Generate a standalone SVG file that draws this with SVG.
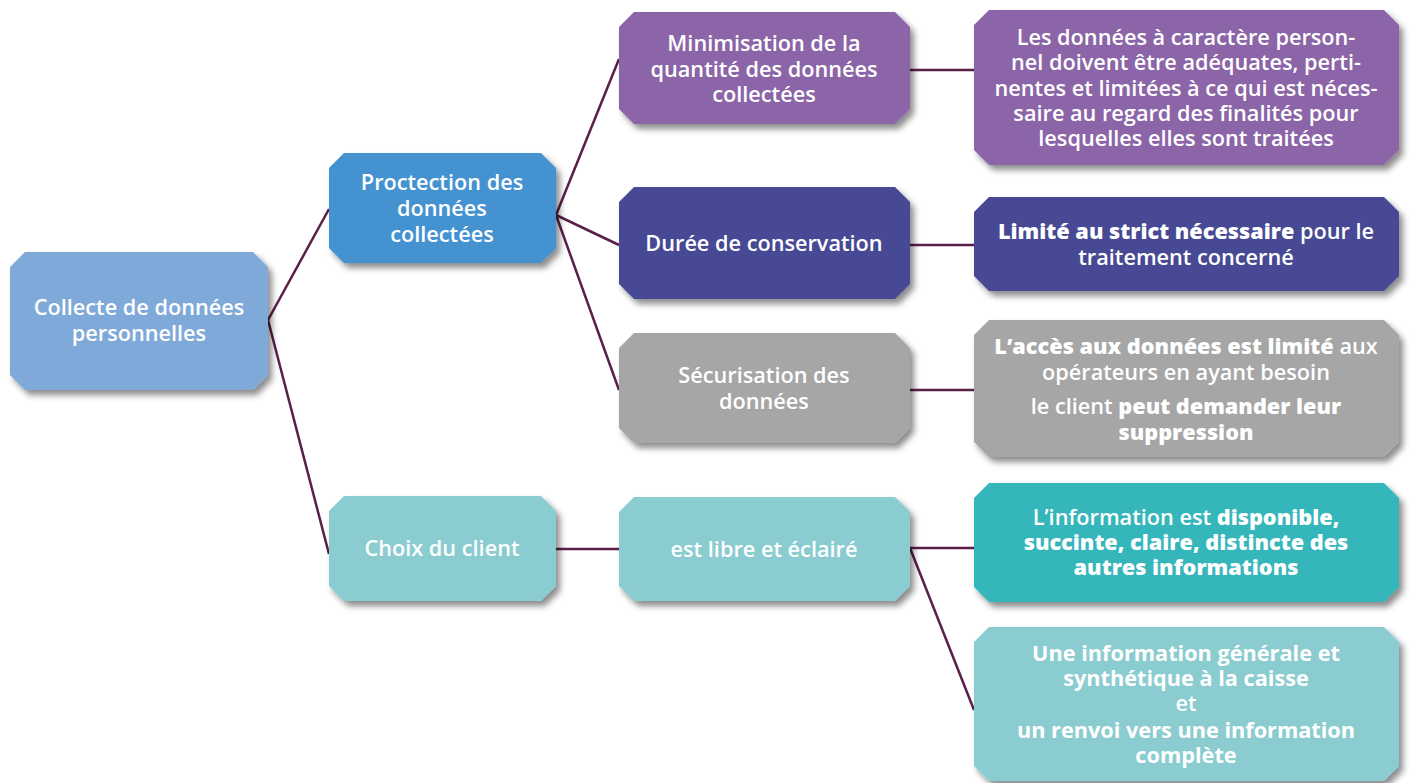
<svg xmlns="http://www.w3.org/2000/svg" width="1411" height="783" viewBox="0 0 1411 783">
<style>
text{font-family:"Open Sans","Noto Sans","Liberation Sans",sans-serif;font-size:21.7px;fill:#fff;font-weight:600;text-anchor:middle}
.b{font-weight:800}
.s{font-weight:700}
.n{filter:url(#sh)}
.c line{stroke:#5a1f48;stroke-width:2.5}
</style>
<defs>
<filter id="sh" x="-10%" y="-10%" width="125%" height="135%">
<feDropShadow dx="4" dy="5" stdDeviation="3" flood-color="#000" flood-opacity="0.45"/>
</filter>
</defs>
<rect width="1411" height="783" fill="#fff"/>
<g class="c" id="connectors">
<line x1="268" y1="320" x2="329" y2="209"/>
<line x1="268" y1="320" x2="329" y2="554"/>
<line x1="556" y1="215" x2="619" y2="59"/>
<line x1="556" y1="215" x2="619" y2="245"/>
<line x1="556" y1="215" x2="619" y2="390"/>
<line x1="910" y1="70" x2="974" y2="70"/>
<line x1="910" y1="245" x2="974" y2="245"/>
<line x1="910" y1="390" x2="974" y2="390"/>
<line x1="556" y1="549" x2="619" y2="549"/>
<line x1="910" y1="548" x2="974" y2="548"/>
<line x1="910" y1="548" x2="974" y2="710"/>
</g>
<g id="n1"><polygon class="n" fill="#7ea9d9" points="25,252 253,252 268,267 268,375 253,390 25,390 10,375 10,267"/>
<text x="139" y="315">Collecte de données</text><text x="139" y="341">personnelles</text></g>
<g id="n2"><polygon class="n" fill="#4592d0" points="344,153 541,153 556,168 556,248 541,263 344,263 329,248 329,168"/>
<text x="442" y="190">Proctection des</text><text x="442" y="216">données</text><text x="442" y="242">collectées</text></g>
<g id="n3"><polygon class="n" fill="#8acccf" points="344,496 541,496 556,511 556,586 541,601 344,601 329,586 329,511"/>
<text x="442" y="556">Choix du client</text></g>
<g id="n4"><polygon class="n" fill="#8b65a7" points="634,12 895,12 910,27 910,109 895,124 634,124 619,109 619,27"/>
<text x="764" y="51">Minimisation de la</text><text x="764" y="77">quantité des données</text><text x="764" y="102">collectées</text></g>
<g id="n5"><polygon class="n" fill="#464894" points="634,187 895,187 910,202 910,284 895,299 634,299 619,284 619,202"/>
<text x="764" y="251">Durée de conservation</text></g>
<g id="n6"><polygon class="n" fill="#a6a6a6" points="634,333 895,333 910,348 910,428 895,443 634,443 619,428 619,348"/>
<text x="764" y="383">Sécurisation des</text><text x="764" y="409">données</text></g>
<g id="n7"><polygon class="n" fill="#8acccf" points="634,497 895,497 910,512 910,586 895,601 634,601 619,586 619,512"/>
<text x="764" y="557">est libre et éclairé</text></g>
<g id="n8"><polygon class="n" fill="#8b65a7" points="989,10 1384,10 1399,25 1399,150 1384,165 989,165 974,150 974,25"/>
<text x="1186" y="45">Les données à caractère person-</text>
<text x="1186" y="70">nel doivent être adéquates, perti-</text>
<text x="1186" y="96">nentes et limitées à ce qui est néces-</text>
<text x="1186" y="121">saire au regard des finalités pour</text>
<text x="1186" y="146">lesquelles elles sont traitées</text></g>
<g id="n9"><polygon class="n" fill="#464894" points="989,197 1384,197 1399,212 1399,276 1384,291 989,291 974,276 974,212"/>
<text x="1186" y="239"><tspan class="b">Limité au strict nécessaire</tspan> pour le</text>
<text x="1186" y="265">traitement concerné</text></g>
<g id="n10"><polygon class="n" fill="#a6a6a6" points="989,320 1384,320 1399,335 1399,442 1384,457 989,457 974,442 974,335"/>
<text x="1186" y="354"><tspan class="b">L’accès aux données est limité</tspan> aux</text>
<text x="1186" y="380">opérateurs en ayant besoin</text>
<text x="1186" y="414">le client <tspan class="b">peut demander leur</tspan></text>
<text x="1186" y="440" class="b">suppression</text></g>
<g id="n11"><polygon class="n" fill="#35b6bb" points="989,483 1384,483 1399,498 1399,587 1384,602 989,602 974,587 974,498"/>
<text x="1186" y="525">L’information est <tspan class="b">disponible,</tspan></text>
<text x="1186" y="550" class="b">succinte, claire, distincte des</text>
<text x="1186" y="575" class="b">autres informations</text></g>
<g id="n12"><polygon class="n" fill="#8acccf" points="989,627 1384,627 1399,642 1399,766 1384,781 989,781 974,766 974,642"/>
<text x="1186" y="661" class="s">Une information générale et</text>
<text x="1186" y="686" class="s">synthétique à la caisse</text>
<text x="1186" y="711">et</text>
<text x="1186" y="738" class="s">un renvoi vers une information</text>
<text x="1186" y="763" class="s">complète</text></g>
</svg>
